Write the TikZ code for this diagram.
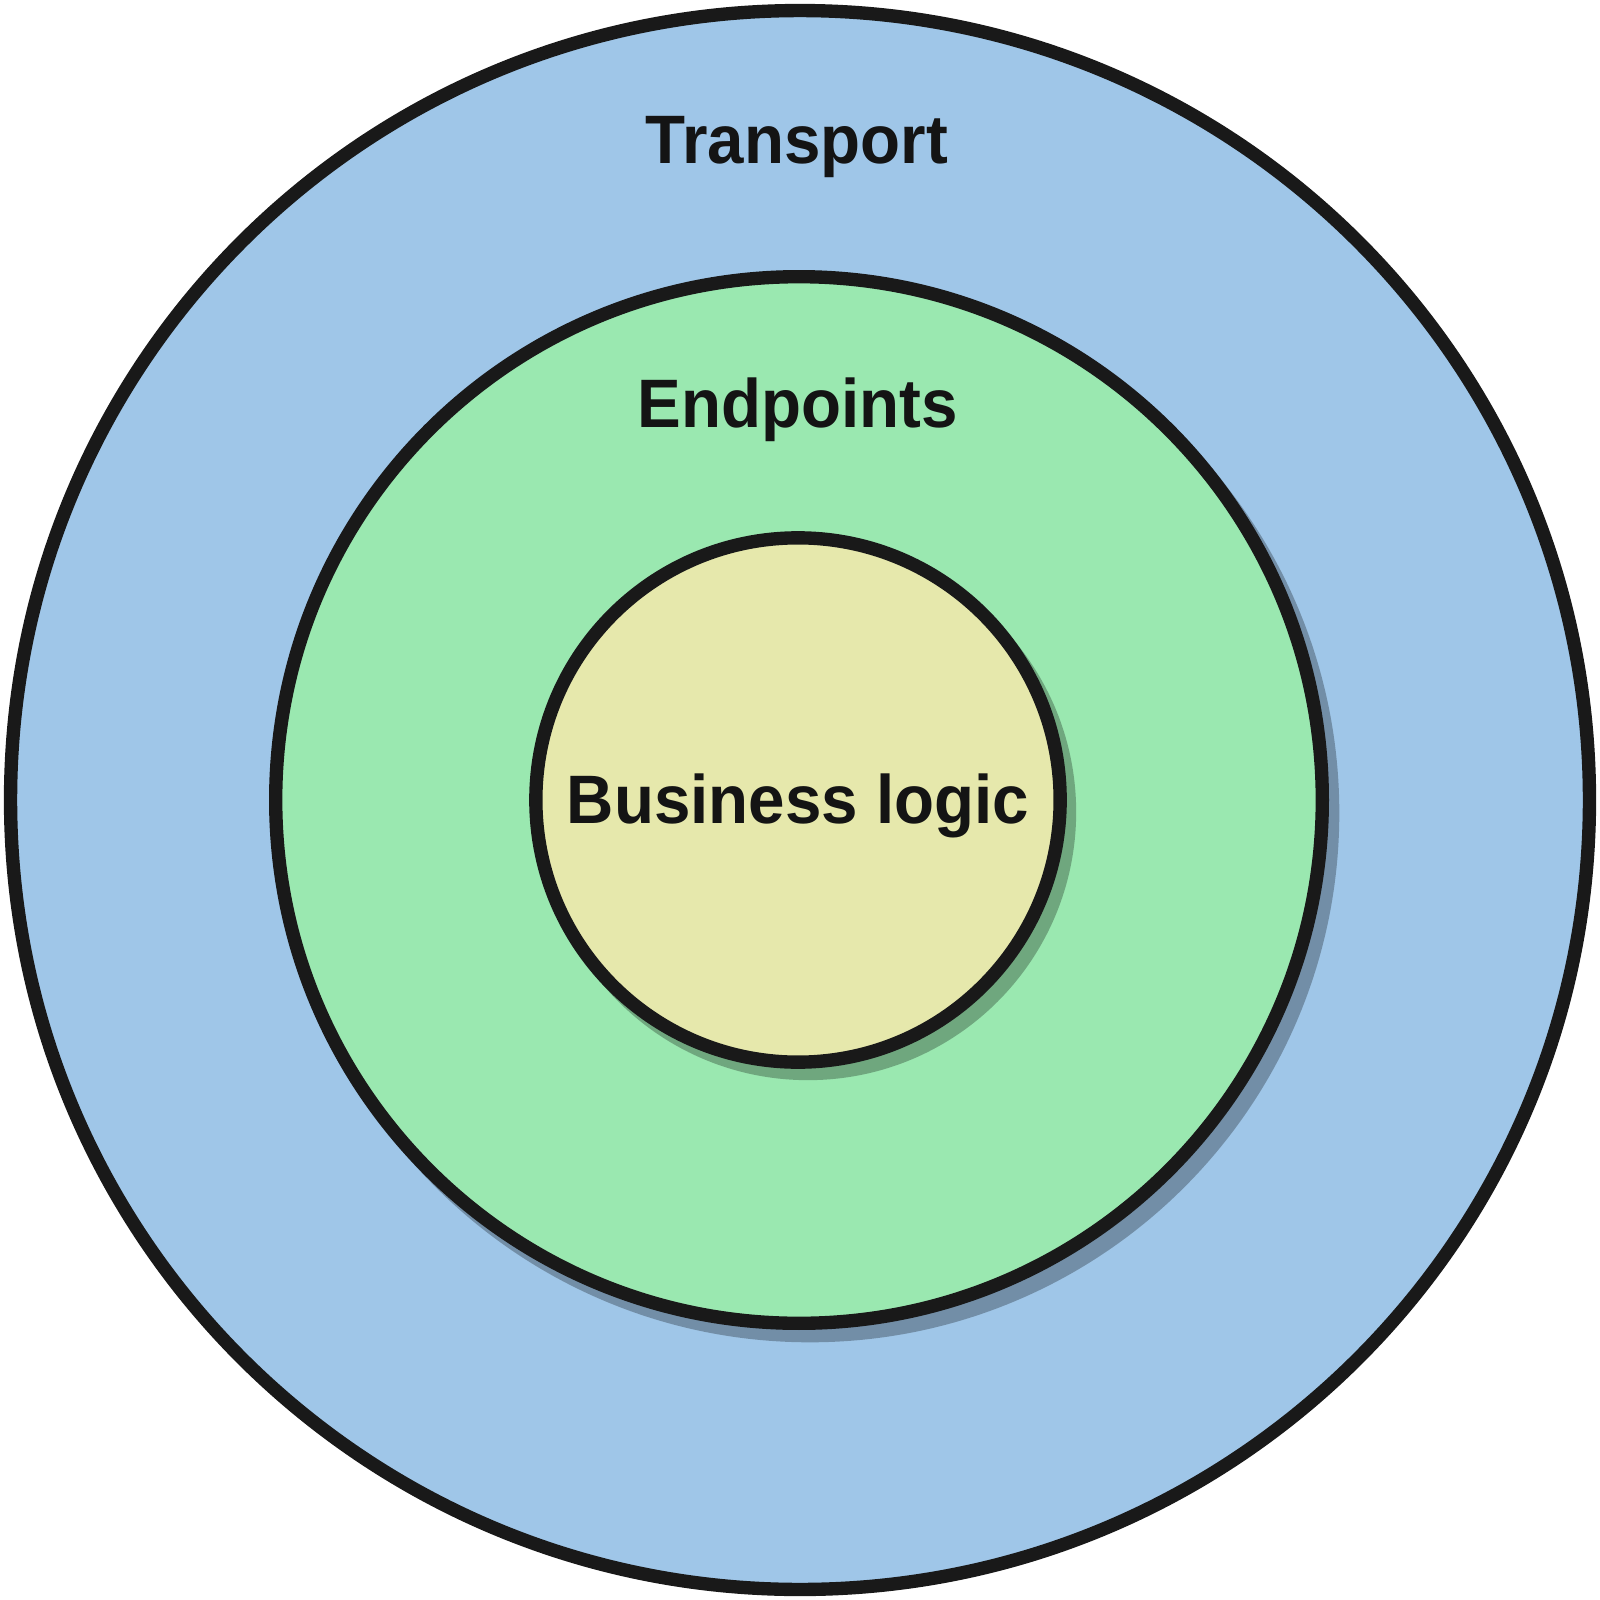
\documentclass[tikz,border=0pt]{standalone}
\usepackage{fontspec}
\setmainfont{Liberation Sans}
\begin{document}
\begin{tikzpicture}[x=0.01cm,y=-0.01cm,
  ring/.style={circle, draw=black!90, line width=3.8pt, inner sep=0pt},
  shade/.style={circle, fill=black, opacity=0.28, inner sep=0pt},
  lbl/.style={font=\fontsize{19.5}{22}\selectfont\bfseries, text=black!92, anchor=base, inner sep=0pt, xscale=0.955}]
\useasboundingbox (0,0) rectangle (1600,1600);
\node[ring, fill={rgb,255:red,159;green,198;blue,232}, minimum size=15.78cm] (outer) at (800,800) {};
\node[shade, minimum size=10.58cm] (midshadow) at (810,813) {};
\node[ring, fill={rgb,255:red,154;green,232;blue,176}, minimum size=10.46cm] (middle) at (799,800) {};
\node[shade, minimum size=5.36cm] (innshadow) at (808,812) {};
\node[ring, fill={rgb,255:red,230;green,232;blue,172}, minimum size=5.24cm] (inner) at (798,800) {};
\node[lbl] (transport) at (797,163) {Transport};
\node[lbl] (endpoints) at (798,427) {Endpoints};
\node[lbl] (business) at (798,823) {Business logic};
\end{tikzpicture}
\end{document}
